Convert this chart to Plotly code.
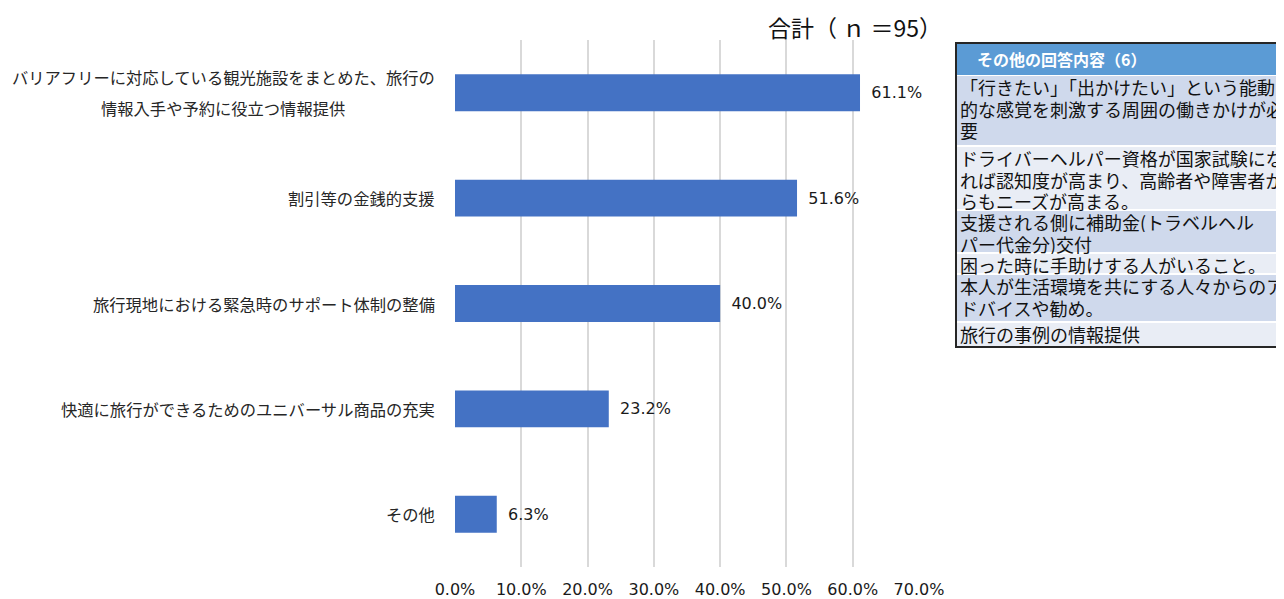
import plotly.graph_objects as go

# ---------------- data ----------------
categories = [
    "バリアフリーに対応している観光施設をまとめた、旅行の|情報入手や予約に役立つ情報提供",
    "割引等の金銭的支援",
    "旅行現地における緊急時のサポート体制の整備",
    "快適に旅行ができるためのユニバーサル商品の充実",
    "その他",
]
values = [61.1, 51.6, 40.0, 23.2, 6.3]
tick_vals = [0, 10, 20, 30, 40, 50, 60, 70]
tick_text = ["0.0%", "10.0%", "20.0%", "30.0%", "40.0%", "50.0%", "60.0%", "70.0%"]
title_text = "合計（ ｎ ＝95）"

table_header = "その他の回答内容（6）"
table_rows = [
    ["「行きたい」「出かけたい」という能動", "的な感覚を刺激する周囲の働きかけが必", "要"],
    ["ドライバーヘルパー資格が国家試験にな", "れば認知度が高まり、高齢者や障害者か", "らもニーズが高まる。"],
    ["支援される側に補助金(トラベルヘル", "パー代金分)交付"],
    ["困った時に手助けする人がいること。"],
    ["本人が生活環境を共にする人々からのア", "ドバイスや勧め。"],
    ["旅行の事例の情報提供"],
]

# ---------------- layout constants (pixel coords of the page) ----------------
PAGE_W, PAGE_H = 1284, 599
OFF = 8  # default body margin of the html page
W, H = PAGE_W - OFF, PAGE_H - OFF
L, R, T, B = 455, 919, 40, 567  # plot area in page pixels
BAR_COLOR = "#4472C4"
JP_FONT = "Noto Sans CJK JP, sans-serif"
NUM_FONT = "DejaVu Sans, Verdana, sans-serif"


def px_x(x):
    return (x - L) / (R - L)


def px_y(y):
    return (B - y) / (B - T)


fig = go.Figure()
fig.add_trace(go.Bar(
    x=values,
    y=list(range(len(categories))),
    orientation="h",
    marker=dict(color=BAR_COLOR, line=dict(width=0)),
    width=0.35,
    text=[" \u2009%.1f%%" % v for v in values],
    textposition="outside",
    textfont=dict(family=NUM_FONT, size=16, color="#1a1a1a"),
    cliponaxis=False,
    hoverinfo="skip",
))

annotations = []
# category labels
LBL_FONT = dict(family=JP_FONT, size=16.3, color="#262626")
for i, cat in enumerate(categories):
    parts = cat.split("|")
    if len(parts) == 1:
        annotations.append(dict(
            x=0, xref="paper", y=i, yref="y", xshift=-18,
            text=parts[0], showarrow=False, xanchor="right", yanchor="middle",
            font=LBL_FONT))
    else:
        annotations.append(dict(
            x=0, xref="paper", y=i, yref="y", xshift=-18, yshift=16,
            text=parts[0], showarrow=False, xanchor="right", yanchor="middle",
            font=LBL_FONT))
        annotations.append(dict(
            x=px_x(223), xref="paper", y=i, yref="y", yshift=-15,
            text=parts[1], showarrow=False, xanchor="center", yanchor="middle",
            font=LBL_FONT))

shapes = []
# table (drawn with shapes + annotations)
TX0, TX1 = 956, 1300
row_bounds = [(76, 145), (147, 209), (211, 252), (254, 273), (275, 321), (323, 346)]
row_fills = ["#CFD9EC", "#E9EDF5"]
shapes.append(dict(type="rect", xref="paper", yref="paper",
                   x0=px_x(TX0), x1=px_x(TX1), y0=px_y(43), y1=px_y(347),
                   fillcolor="white", line=dict(width=0), layer="above"))
shapes.append(dict(type="rect", xref="paper", yref="paper",
                   x0=px_x(TX0), x1=px_x(TX1), y0=px_y(44), y1=px_y(75),
                   fillcolor="#5B9BD5", line=dict(width=0), layer="above"))
annotations.append(dict(
    x=px_x(975), xref="paper", y=px_y(59), yref="paper",
    text="<b>" + table_header + "</b>", showarrow=False,
    xanchor="left", yanchor="middle",
    font=dict(family=JP_FONT, size=16, color="white")))
for k, (lines, (y0, y1)) in enumerate(zip(table_rows, row_bounds)):
    shapes.append(dict(type="rect", xref="paper", yref="paper",
                       x0=px_x(TX0), x1=px_x(TX1), y0=px_y(y0), y1=px_y(y1),
                       fillcolor=row_fills[k % 2], line=dict(width=0), layer="above"))
    for j, line in enumerate(lines):
        annotations.append(dict(
            x=px_x(958), xref="paper", y=px_y(y0 + 10.5 + j * 21.5), yref="paper",
            text=line, showarrow=False, xanchor="left", yanchor="middle",
            height=21, valign="middle",
            font=dict(family=JP_FONT, size=18, color="#111111")))
shapes.append(dict(type="rect", xref="paper", yref="paper",
                   x0=px_x(TX0), x1=px_x(TX1), y0=px_y(43), y1=px_y(347),
                   fillcolor="rgba(0,0,0,0)", line=dict(width=2, color="#262626"),
                   layer="above"))

fig.update_layout(
    width=W, height=H,
    margin=dict(l=L - OFF, r=W - (R - OFF), t=T - OFF, b=H - (B - OFF), pad=0,
                autoexpand=False),
    paper_bgcolor="white", plot_bgcolor="white",
    showlegend=False,
    title=dict(text=title_text, x=(855 - OFF) / W, xanchor="center", xref="container",
               y=1 - (29 - OFF) / H, yanchor="middle", yref="container",
               font=dict(family=JP_FONT, size=23, color="#111111")),
    xaxis=dict(range=[0, 70], tickvals=tick_vals, ticktext=tick_text,
               showgrid=True, gridcolor="#D9D9D9", gridwidth=1.5,
               zeroline=False, showline=False, ticks="",
               ticklabelstandoff=11, automargin=False,
               tickfont=dict(family=NUM_FONT, size=16, color="#1a1a1a"),
               fixedrange=True),
    yaxis=dict(range=[4.5, -0.5], showticklabels=False, showgrid=False,
               zeroline=False, showline=False, fixedrange=True, automargin=False),
    annotations=annotations,
    shapes=shapes,
)

fig.write_html("out.html")
